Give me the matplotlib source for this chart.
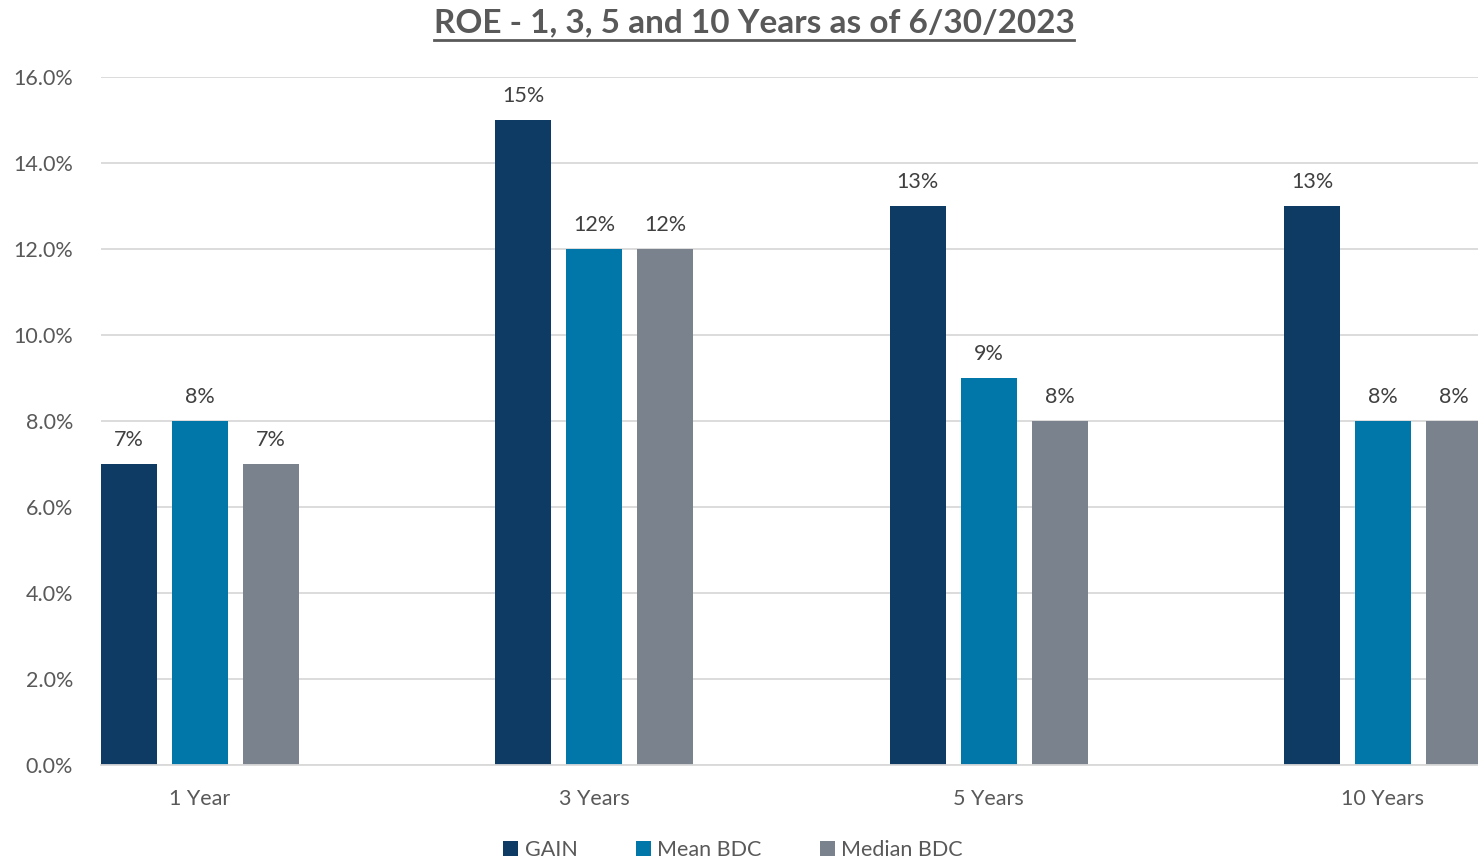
import matplotlib

matplotlib.use("Agg")

import matplotlib.pyplot as plt
import numpy as np
from matplotlib.lines import Line2D
from matplotlib.ticker import FuncFormatter

categories = ["1 Year", "3 Years", "5 Years", "10 Years"]
gain = [7, 15, 13, 13]
mean_bdc = [8, 12, 9, 8]
median_bdc = [7, 12, 8, 8]
series_names = ["GAIN", "Mean BDC", "Median BDC"]
colors = ["#0E3B63", "#0077A8", "#7A838D"]
text_color = "#595959"

plt.rcParams["font.family"] = ["Lato", "DejaVu Sans"]

fig = plt.figure(figsize=(14.78, 8.61), dpi=100)
ax = fig.add_axes([101 / 1478, 1 - 765 / 861, 1 - 101 / 1478, (765 - 77) / 861])

x = np.arange(len(categories))
step = 0.18
width = 0.142
for i, (name, vals, col) in enumerate(zip(series_names, [gain, mean_bdc, median_bdc], colors)):
    bars = ax.bar(x + (i - 1) * step, vals, width, color=col, label=name, zorder=2)
    for b, v in zip(bars, vals):
        ax.annotate(f"{v}%", (b.get_x() + b.get_width() / 2, v), xytext=(0, 17.3),
                    textcoords="offset points", ha="center", va="center",
                    fontsize=15.5, color="#404040")

ax.set_ylim(0, 16)
ax.set_yticks(np.arange(0, 16.1, 2))
ax.yaxis.set_major_formatter(FuncFormatter(lambda v, p: f"{v:.1f}%"))
ax.set_xlim(-0.251, 3.241)
ax.set_xticks(x)
ax.set_xticklabels(categories)
ax.grid(axis="y", color="#D9D9D9", linewidth=1.3, zorder=0)
for s in ["top", "right", "left"]:
    ax.spines[s].set_visible(False)
ax.spines["bottom"].set_color("#D9D9D9")
ax.spines["bottom"].set_linewidth(1.3)
ax.tick_params(axis="both", length=0, labelsize=15.5, labelcolor=text_color)
ax.tick_params(axis="x", pad=17)
ax.tick_params(axis="y", pad=20)

title = fig.text(754 / 1478, 1 - 23 / 861, "ROE - 1, 3, 5 and 10 Years as of 6/30/2023",
                 ha="center", va="center", fontsize=24, fontweight="bold", color=text_color)

fig.legend(loc="center", bbox_to_anchor=(733 / 1478, 1 - 850 / 861), ncol=3, frameon=False,
           fontsize=15.5, handlelength=0.7, handleheight=0.7, handletextpad=0.3,
           columnspacing=2.7, labelcolor=text_color)

fig.canvas.draw()
bb = title.get_window_extent().transformed(fig.transFigure.inverted())
fig.add_artist(Line2D([bb.x0, bb.x1], [1 - 40 / 861] * 2, color=text_color, linewidth=2))

fig.savefig("out.png", dpi=100)
